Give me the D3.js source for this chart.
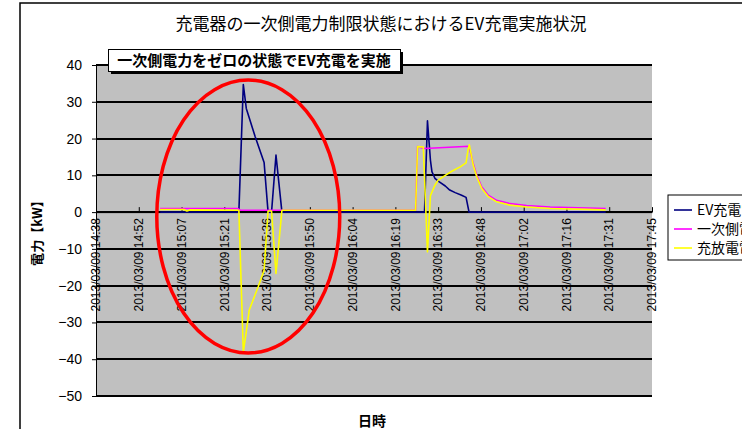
<!DOCTYPE html>
<html>
<head>
<meta charset="utf-8">
<script src="https://cdn.jsdelivr.net/npm/d3@7"></script>
<style>
  body { margin: 0; background: #fff; }
  text { font-family: "Liberation Sans", Arial, sans-serif; }
  .jp { font-family: "Noto Sans CJK JP", sans-serif; }
</style>
</head>
<body>
<div id="chart"></div>
<script>
// x axis: Excel date axis, major unit 0.01 day
var tickTimes = ["14:38:24","14:52:48","15:07:12","15:21:36","15:36:00","15:50:24","16:04:48",
                 "16:19:12","16:33:36","16:48:00","17:02:24","17:16:48","17:31:12","17:45:36"];
var tickLabels = ["2013/03/09 14:38","2013/03/09 14:52","2013/03/09 15:07","2013/03/09 15:21",
                  "2013/03/09 15:36","2013/03/09 15:50","2013/03/09 16:04","2013/03/09 16:19",
                  "2013/03/09 16:33","2013/03/09 16:48","2013/03/09 17:02","2013/03/09 17:16",
                  "2013/03/09 17:31","2013/03/09 17:45"];
var yTicks = [40, 30, 20, 10, 0, -10, -20, -30, -40, -50];

var seriesNames = ["EV充電電力", "一次側電力", "充放電電力"];
var seriesColors = ["#000080", "#ff00ff", "#ffff00"];

// EV charge power (kW)
var evTimes = ["15:00:00","15:26:00","15:26:30","15:28:00","15:29:00","15:32:00","15:35:00",
               "15:36:20","15:37:30","15:39:00","15:41:00","16:29:00","16:30:00","16:31:00",
               "16:31:30","16:32:30","16:34:00","16:36:00","16:37:30","16:39:20","16:41:30",
               "16:43:00","16:44:00","17:30:00"];
var evValues = [0, 0, 0, 34.7, 28.2, 20.5, 13.5,
                0, 0, 15.5, 0, 0, 24.8, 14.1,
                11.0, 9.2, 8.2, 7.1, 6.0, 5.3, 4.6,
                4.0, 0, 0];

// primary side power (kW)
var primTimes = ["15:00:00","15:26:00","15:27:00","16:26:00","16:26:40","16:29:00","16:44:00",
                 "16:45:24","16:46:36","16:48:18","16:50:30","16:53:18","16:57:48","17:03:24",
                 "17:11:18","17:30:00"];
var primValues = [1.0, 1.0, 0.5, 0.5, 17.8, 17.3, 17.9,
                  13.2, 10.0, 6.8, 4.6, 3.2, 2.3, 1.8,
                  1.4, 1.0];

// charge / discharge power (kW)
var battTimes = ["15:00:00","15:08:00","15:09:00","15:10:00","15:26:30","15:28:00","15:29:00",
                 "15:30:00","15:33:00","15:35:00","15:36:20","15:37:30","15:39:00","15:41:00",
                 "16:26:00","16:26:40","16:28:36","16:30:00","16:31:00","16:32:30","16:33:36",
                 "16:36:00","16:38:12","16:41:00","16:43:00","16:43:40","16:44:06","16:45:24",
                 "16:46:36","16:48:18","16:50:30","16:53:18","16:57:48","17:03:24","17:11:18",
                 "17:30:00"];
var battValues = [0.7, 0.7, 0.3, 0.6, 0.5, -38.0, -32.5,
                  -26.6, -20.3, -15.8, 0.3, 0.3, -16.7, 0.5,
                  0.5, 17.8, 17.7, -10.8, 4.5, 7.3, 8.7,
                  10.0, 11.1, 12.3, 13.4, 17.0, 18.3, 12.8,
                  9.6, 6.4, 4.2, 2.8, 1.9, 1.4, 1.0,
                  0.6];

var parseTime = d3.timeParse("%H:%M:%S");

var margin = {top: 65, left: 96},
    width = 556,
    height = 331;

var svg = d3.select("#chart")
  .append("svg")
    .attr("width", 742)
    .attr("height", 429);

// outer chart border
svg.append("rect")
  .attr("x", 20).attr("y", 3)
  .attr("width", 800).attr("height", 500)
  .attr("fill", "#fff")
  .attr("stroke", "#000")
  .attr("stroke-width", 1.5);

var g = svg.append("g")
  .attr("transform", "translate(" + margin.left + "," + margin.top + ")");

var x = d3.scaleTime()
  .domain([parseTime(tickTimes[0]), parseTime(tickTimes[tickTimes.length - 1])])
  .range([0, width]);

var y = d3.scaleLinear()
  .domain([-50, 40])
  .range([height, 0]);

// plot area
g.append("rect")
  .attr("width", width)
  .attr("height", height)
  .attr("fill", "#c0c0c0");

// horizontal gridlines
g.append("g")
  .attr("class", "grid")
  .selectAll("rect")
  .data(yTicks)
  .enter()
  .append("rect")
    .attr("x", 0)
    .attr("y", function(d) { return Math.round(y(d)) - 1; })
    .attr("width", width)
    .attr("height", 2)
    .attr("fill", "#000")
    .style("shape-rendering", "crispEdges");

// y axis
var yAxis = g.append("g")
  .call(d3.axisLeft(y).tickValues(yTicks).tickSize(4).tickPadding(10));
yAxis.select(".domain").attr("stroke", "#000");
yAxis.selectAll("line").attr("stroke", "#000");
yAxis.selectAll("text")
  .style("font-size", "14px")
  .style("fill", "#000");

// x axis at zero
var xAxis = g.append("g")
  .attr("transform", "translate(0," + y(0) + ")")
  .call(d3.axisTop(x)
    .tickValues(tickTimes.map(parseTime))
    .tickSize(5)
    .tickSizeOuter(0)
    .tickFormat(""));
xAxis.select(".domain").attr("stroke", "#000");

g.append("g")
  .selectAll("text")
  .data(tickTimes)
  .enter()
  .append("text")
    .attr("transform", function(d) {
      return "translate(" + x(parseTime(d)) + "," + (y(0) + 6) + ")rotate(-90)";
    })
    .attr("dy", "0.35em")
    .attr("text-anchor", "end")
    .style("font-size", "12px")
    .style("fill", "#000")
    .text(function(d, i) { return tickLabels[i]; });

// series lines
var line = d3.line()
  .x(function(d) { return x(d.t); })
  .y(function(d) { return y(d.v); });

var series = [
  [evTimes, evValues],
  [primTimes, primValues],
  [battTimes, battValues]
];

series.forEach(function(s, i) {
  var pts = s[0].map(function(t, j) { return {t: parseTime(t), v: s[1][j]}; });
  g.append("path")
    .datum(pts)
    .attr("fill", "none")
    .attr("stroke", seriesColors[i])
    .attr("stroke-width", 1.6)
    .attr("stroke-linejoin", "round")
    .attr("d", line);
});

// red ellipse around the first event (centre in data units, radii in minutes / kW)
var ellCentre = "15:29:40", ellValue = -1.2, ellMinutes = 30.8, ellKw = 37.1;
var ec = parseTime(ellCentre);
g.append("ellipse")
  .attr("cx", x(ec))
  .attr("cy", y(ellValue))
  .attr("rx", x(d3.timeSecond.offset(ec, ellMinutes * 60)) - x(ec))
  .attr("ry", y(0) - y(ellKw))
  .attr("fill", "none")
  .attr("stroke", "#ff0000")
  .attr("stroke-width", 3.5);

// annotation box
svg.append("rect")
  .attr("x", 111).attr("y", 52)
  .attr("width", 292).attr("height", 22)
  .attr("fill", "#000");
svg.append("rect")
  .attr("x", 108.5).attr("y", 49.5)
  .attr("width", 292).attr("height", 22)
  .attr("fill", "#fff")
  .attr("stroke", "#000")
  .attr("stroke-width", 1);
svg.append("text")
  .attr("class", "jp")
  .attr("x", 254)
  .attr("y", 66)
  .attr("text-anchor", "middle")
  .style("font-size", "15px")
  .style("font-weight", "bold")
  .text("一次側電力をゼロの状態でEV充電を実施");

// title
svg.append("text")
  .attr("class", "jp")
  .attr("x", 381)
  .attr("y", 30)
  .attr("text-anchor", "middle")
  .style("font-size", "17px")
  .text("充電器の一次側電力制限状態におけるEV充電実施状況");

// axis titles
svg.append("text")
  .attr("class", "jp")
  .attr("transform", "translate(42,230)rotate(-90)")
  .attr("text-anchor", "middle")
  .style("font-size", "13px")
  .style("font-weight", "bold")
  .text("電力【kW】");

svg.append("text")
  .attr("class", "jp")
  .attr("x", 372)
  .attr("y", 426)
  .attr("text-anchor", "middle")
  .style("font-size", "14px")
  .style("font-weight", "bold")
  .text("日時");

// legend (runs off the right edge as in the source)
var legend = svg.append("g").attr("transform", "translate(668,195)");
legend.append("rect")
  .attr("width", 200).attr("height", 65)
  .attr("fill", "#fff")
  .attr("stroke", "#000");
seriesNames.forEach(function(name, i) {
  legend.append("line")
    .attr("x1", 6).attr("x2", 24)
    .attr("y1", 15 + i * 19).attr("y2", 15 + i * 19)
    .attr("stroke", seriesColors[i])
    .attr("stroke-width", 1.6);
  legend.append("text")
    .attr("class", "jp")
    .attr("x", 29)
    .attr("y", 15 + i * 19)
    .attr("dy", "0.35em")
    .style("font-size", "14px")
    .text(name);
});
</script>
</body>
</html>
